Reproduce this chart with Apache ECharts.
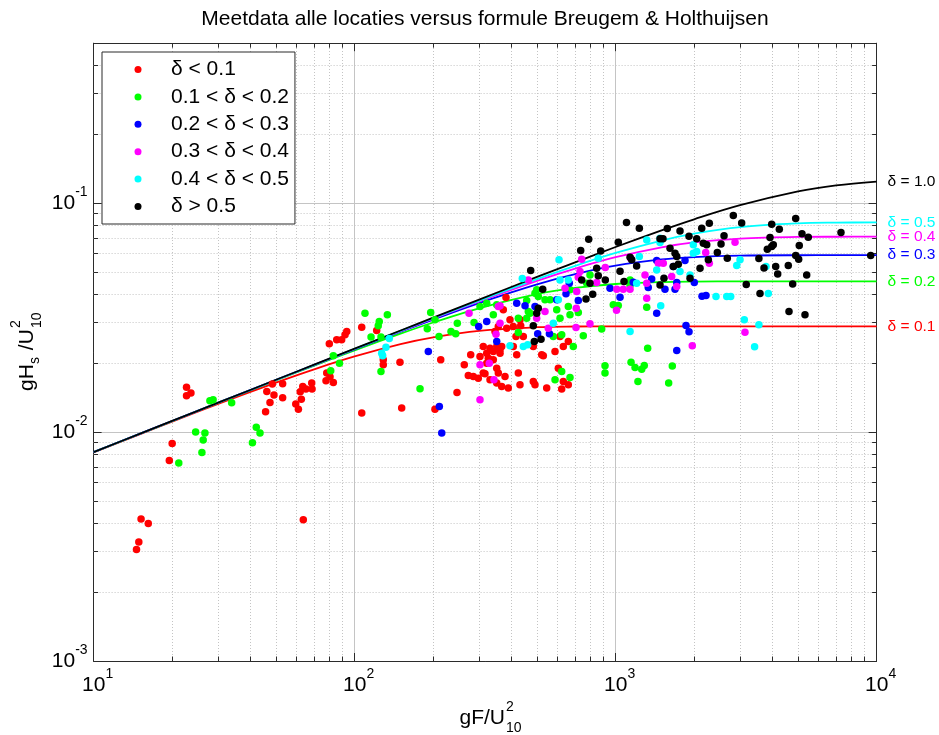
<!DOCTYPE html>
<html>
<head>
<meta charset="utf-8">
<script src="https://cdn.jsdelivr.net/npm/echarts@6/dist/echarts.min.js"></script>
<style>
  html, body { margin: 0; padding: 0; background: #fff; }
  #chart { width: 939px; height: 735px; }
</style>
</head>
<body>
<div id="chart"></div>
<script>
// Axis ranges (dimensionless fetch gF/U10^2 and wave height gHs/U10^2)
const fetchRange = [10, 10000];
const heightRange = [0.001, 0.5];

// Minor grid / tick positions (log decades 2..9)
const fetchMinor = [20, 30, 40, 50, 60, 70, 80, 90, 200, 300, 400, 500, 600, 700, 800, 900,
  2000, 3000, 4000, 5000, 6000, 7000, 8000, 9000];
const heightMinor = [0.002, 0.003, 0.004, 0.005, 0.006, 0.007, 0.008, 0.009,
  0.02, 0.03, 0.04, 0.05, 0.06, 0.07, 0.08, 0.09, 0.2, 0.3, 0.4];

// Legend / series names
const classNames = ['δ < 0.1', '0.1 < δ < 0.2', '0.2 < δ < 0.3', '0.3 < δ < 0.4', '0.4 < δ < 0.5', 'δ > 0.5'];
const classColors = ['#ff0000', '#00ff00', '#0000ff', '#ff00ff', '#00ffff', '#000000'];

// Measurements: [gF/U^2, gHs/U^2]
const depthBelow01 = [[15.2,0.00417],[16.2,0.00399],[14.9,0.00331],[14.6,0.00307],[19.5,0.00752],[20.0,0.00892],
  [22.7,0.01572],[23.6,0.0148],[22.7,0.0144],[63.6,0.00414],[46.1,0.01504],[48.4,0.01621],[49.1,0.01451],
  [47.4,0.01347],[45.6,0.01226],[53.0,0.01626],[53.0,0.01411],[59.5,0.01325],[60.9,0.01259],[62.5,0.01393],
  [63.3,0.01582],[61.9,0.015],[65.1,0.01541],[68.5,0.01637],[68.7,0.01541],[77.7,0.01675],[82.9,0.01646],
  [78.2,0.0181],[80.0,0.0243],[85.4,0.0253],[89.2,0.0253],[91.9,0.0266],[93.3,0.0275],[106.5,0.02874],
  [121.5,0.02778],[80.5,0.01744],[128.8,0.02069],[128.8,0.01967],[149.2,0.02021],[106.5,0.01211],[151.5,0.01273],
  [213.8,0.02069],[203.2,0.01259],[246.8,0.01489],[263.2,0.01967],[278.5,0.02176],[272.7,0.01767],[285,0.01749],
  [297.8,0.01721],[315.9,0.01797],[302.3,0.02139],[320.7,0.02213],[330.2,0.02327],[340,0.02249],[350.4,0.02365],
  [320.7,0.02001],[350.4,0.01903],[345.1,0.0275],[350.4,0.01637],[325.3,0.02104],[340,0.02069],[360.8,0.02288],
  [371.3,0.0342],[355.3,0.02892],[393.9,0.03093],[405.5,0.02892],[430.2,0.03093],[415.3,0.02616],[443,0.02616],
  [405.5,0.02365],[417.9,0.02176],[311.2,0.02365],[330.2,0.02069],[311.2,0.0181],[376.9,0.01749],[366.1,0.01582],
  [423.9,0.0181],[430.2,0.01609],[483.8,0.01663],[544.5,0.01557],[621.6,0.01541],[658.9,0.01609],[603.3,0.01903],
  [521.1,0.02176],[586,0.02249],[630.4,0.02365],[658.9,0.02486],[483.8,0.02365],[388,0.01557],[380.3,0.0387],
  [360.8,0.02213],[355.3,0.0181],[330.2,0.01692],[366.1,0.02365],[382.6,0.02844],[432.9,0.02912],[491.1,0.01609],
  [630.4,0.01663],[612.4,0.02616],[528.5,0.02154]];

const depth01to02 = [[27.9,0.0137],[28.7,0.01384],[33.8,0.01342],[24.6,0.01],[26.7,0.0099],[26.3,0.00923],
  [26.0,0.00815],[21.2,0.00732],[42.0,0.01051],[43.4,0.0099],[40.6,0.00898],[81.0,0.01852],[82.9,0.02154],
  [87.5,0.01997],[109.6,0.03309],[124.3,0.03041],[123.2,0.02912],[133.5,0.03253],[115.6,0.026],[126.2,0.026],
  [126.2,0.01839],[178.1,0.01545],[195.7,0.03329],[203.2,0.03093],[189.9,0.02826],[210.6,0.02616],[234.1,0.0275],
  [244,0.02688],[247.5,0.02992],[286.8,0.0301],[302.3,0.03535],[320.7,0.03659],[340,0.03253],[350.4,0.03597],
  [498.5,0.04182],[505.6,0.0391],[536.4,0.03783],[463,0.03362],[469.9,0.03309],[423.9,0.03146],[456.4,0.03146],
  [561,0.03783],[594.8,0.0342],[612.4,0.03146],[658.9,0.03535],[668.8,0.03253],[719.6,0.03329],[752,0.02634],
  [688.5,0.02365],[621.6,0.0266],[577.3,0.02616],[884.5,0.02818],[979.9,0.03597],[910.8,0.01948],[910.8,0.0181],
  [621.6,0.01839],[668.8,0.01731],[586,0.01692],[775,0.04473],[797.8,0.04862],[668.8,0.04182],[456.4,0.03756],
  [491.1,0.04046],[423.9,0.02722],[1136,0.04623],[1136,0.04365],[1024,0.03571],[1316,0.03514],[1327,0.02327],
  [1146,0.02021],[1187,0.01915],[1259,0.01884],[1288,0.01954],[1218,0.01663],[1649,0.01942],[1597,0.01637]];

const depth02to03 = [[191.6,0.02249],[211.2,0.01293],[215.7,0.0099],[320.7,0.03041],[298.8,0.02892],[350.4,0.02486],
  [417.9,0.03659],[449.8,0.0356],[491.1,0.03535],[594.8,0.03783],[645.6,0.04017],[719.6,0.03756],[664.7,0.04473],
  [951.7,0.04254],[1040,0.03886],[502.9,0.02688],[557.7,0.02688],[1437,0.05614],[1664,0.05285],[1845,0.05614],
  [1715,0.045],[1546,0.04212],[1689,0.04212],[1334,0.0428],[1375,0.04669],[2002,0.045],[2220,0.0395],
  [2143,0.03924],[1437,0.03309],[1861,0.02921],[1911,0.02742],[1715,0.02272],[1169,0.04518]];

const depth03to04 = [[274.4,0.03309],[302.3,0.01967],[302.3,0.01384],[328.1,0.02001],[342,0.01692],[348.2,0.02679],
  [355.3,0.03535],[741.5,0.05695],[913.1,0.05233],[730.5,0.05026],[719.6,0.04751],[709.6,0.04111],[640,0.04254],
  [536.4,0.03362],[498.5,0.03146],[552.2,0.02844],[707,0.03478],[797.8,0.02971],[705.2,0.02862],[1008,0.03409],
  [1010,0.04212],[1070,0.04212],[846.3,0.045],[360.8,0.0356],[360.8,0.02992],[463,0.04623],[2868,0.06756],
  [2214,0.06085],[2286,0.0547],[1458,0.0547],[1523,0.0547],[1296,0.04862],[1640,0.0478],[1715,0.04324],
  [1316,0.04473],[1136,0.04212],[1316,0.03847],[1967,0.02381],[3131,0.02733],[1142,0.05752]];

const depth04to05 = [[135.8,0.02564],[131.9,0.0235],[127,0.02213],[128.1,0.02154],[607,0.05655],[439,0.04683],
  [612.4,0.04623],[658.9,0.04623],[603.3,0.03783],[577.3,0.02992],[393.9,0.02381],[443,0.02365],[460.5,0.02405],
  [858.3,0.05752],[1136,0.0275],[1316,0.06914],[1480,0.07034],[1480,0.06728],[1985,0.06576],[1233,0.05845],
  [1985,0.06048],[2045,0.06146],[1928,0.04862],[1765,0.05026],[1437,0.05112],[1204,0.04473],[2425,0.0391],
  [2666,0.0391],[2761,0.0391],[1489,0.0356],[3112,0.03093],[2911,0.05339],[2997,0.05655],[3770,0.05285],
  [3847,0.04029],[3540,0.02942],[3408,0.02358]];

const depthAbove05 = [[1101,0.08245],[788.7,0.06964],[735,0.06209],[1024,0.06743],[876.7,0.06189],[472.8,0.05077],
  [525.7,0.04212],[846.3,0.05201],[858.3,0.04814],[913.1,0.04623],[741.5,0.04623],[797.8,0.04473],[817.2,0.04005],
  [770.1,0.0381],[1040,0.05047],[1077,0.04546],[505.6,0.03478],[498.5,0.03309],[483.8,0.02912],[488.1,0.02486],
  [517.9,0.02547],[1233,0.07776],[1578,0.07745],[1765,0.07568],[2138,0.07776],[2286,0.0818],[2825,0.08829],
  [3041,0.08204],[1480,0.06985],[1519,0.06985],[1911,0.07177],[2045,0.06985],[2168,0.06688],[2234,0.06576],
  [2603,0.07199],[2535,0.06641],[1616,0.0636],[1689,0.06048],[1715,0.05845],[2453,0.06085],[2679,0.05752],
  [2266,0.05655],[1136,0.0581],[1153,0.05655],[1204,0.05323],[1664,0.05285],[1739,0.05415],[2106,0.05201],
  [1532,0.04703],[1480,0.04396],[1928,0.04703],[3167,0.04418],[3964,0.08096],[4239,0.077],[4898,0.08564],
  [5178,0.07345],[5473,0.07106],[7303,0.07443],[3905,0.07078],[4020,0.06576],[3964,0.06463],[3813,0.06297],
  [5055,0.06528],[4898,0.05904],[5028,0.05695],[3540,0.05729],[3703,0.05217],[4106,0.05285],[4179,0.04911],
  [4588,0.05339],[5397,0.04862],[4769,0.0444],[3575,0.04029],[4617,0.03362],[5317,0.03253],[9493,0.05904]];

const measurements = [depthBelow01, depth01to02, depth02to03, depth03to04, depth04to05, depthAbove05];

// Breugem & Holthuijsen curves, tabulated per dimensionless depth
const curveFetch = [10, 15, 20, 30, 50, 70, 100, 150, 200, 300, 500, 700, 1000, 1500, 2000, 3000, 5000, 7000, 10000];
const curveDelta01 = [0.00816, 0.00978, 0.01111, 0.01327, 0.01646, 0.01881, 0.02140, 0.02423, 0.02594, 0.02769,
  0.02872, 0.02893, 0.02899, 0.02899, 0.02899, 0.02899, 0.02899, 0.02899, 0.02899];
const curveDelta02 = [0.00817, 0.00981, 0.01117, 0.01341, 0.01683, 0.01950, 0.02275, 0.02692, 0.03012, 0.03473,
  0.04002, 0.04262, 0.04436, 0.04525, 0.04546, 0.04553, 0.04553, 0.04553, 0.04553];
const curveDelta03 = [0.00818, 0.00982, 0.01118, 0.01343, 0.01689, 0.01962, 0.02299, 0.02744, 0.03102, 0.03660,
  0.04415, 0.04894, 0.05331, 0.05677, 0.05817, 0.05902, 0.05924, 0.05926, 0.05926];
const curveDelta04 = [0.00818, 0.00982, 0.01118, 0.01344, 0.01691, 0.01966, 0.02307, 0.02762, 0.03132, 0.03726,
  0.04582, 0.05182, 0.05806, 0.06415, 0.06736, 0.07006, 0.07123, 0.07137, 0.07140];
const curveDelta05 = [0.00818, 0.00982, 0.01118, 0.01344, 0.01692, 0.01967, 0.02310, 0.02769, 0.03146, 0.03756,
  0.04661, 0.05327, 0.06064, 0.06869, 0.07360, 0.07864, 0.08164, 0.08225, 0.08240];
const curveDelta10 = [0.00818, 0.00982, 0.01119, 0.01344, 0.01693, 0.01970, 0.02314, 0.02779, 0.03163, 0.03793,
  0.04762, 0.05519, 0.06435, 0.07608, 0.08507, 0.09799, 0.11259, 0.11966, 0.12430];

const curveLabels = ['δ = 0.1', 'δ = 0.2', 'δ = 0.3', 'δ = 0.4', 'δ = 0.5', 'δ = 1.0'];
const curveColors = ['#ff0000', '#00ff00', '#0000ff', '#ff00ff', '#00ffff', '#000000'];
const curveValues = [curveDelta01, curveDelta02, curveDelta03, curveDelta04, curveDelta05, curveDelta10];

const FONT = '"Liberation Sans", Arial, Helvetica, sans-serif';
const FRAME = '#2b2b2b';
const GRID_MAJOR = '#c4c4c4';
const GRID_MINOR = '#c4c4c4';

// "10^n" labels only at whole decades
function decadeLabel(v) {
  const lg = Math.log10(v);
  const e = Math.round(lg);
  if (Math.abs(lg - e) > 1e-6) return '';
  return '{b|10}{s|' + e + '}';
}

const chart = echarts.init(document.getElementById('chart'), null, { renderer: 'canvas' });

const logAxisBase = {
  type: 'log',
  logBase: 10,
  axisLine: { show: true, onZero: false, lineStyle: { color: FRAME, width: 1 } },
  axisTick: { show: true, inside: true, length: 8, lineStyle: { color: FRAME, width: 1 } },
  minorTick: { show: false },
  minorSplitLine: { show: false }
};

const supRich = {
  s: { fontSize: 14, fontFamily: FONT, color: '#000', verticalAlign: 'top', lineHeight: 14 }
};

function crisp(v) { return Math.round(v - 0.5) + 0.5; }

const series = [];

// dotted minor grid lines and minor ticks along x
series.push({
  type: 'custom',
  coordinateSystem: 'cartesian2d',
  silent: true,
  z: 1,
  data: fetchMinor.map(v => [v, heightRange[0]]),
  renderItem: function (params, api) {
    const x = api.value(0);
    const b = api.coord([x, heightRange[0]]);
    const t = api.coord([x, heightRange[1]]);
    const px = crisp(b[0]);
    return {
      type: 'group',
      children: [
        { type: 'line', shape: { x1: px, y1: b[1], x2: px, y2: t[1] },
          style: { stroke: GRID_MINOR, lineWidth: 1, lineDash: [1, 2] } },
        { type: 'line', shape: { x1: px, y1: b[1], x2: px, y2: b[1] - 4.5 },
          style: { stroke: FRAME, lineWidth: 1 } },
        { type: 'line', shape: { x1: px, y1: t[1], x2: px, y2: t[1] + 4.5 },
          style: { stroke: FRAME, lineWidth: 1 } }
      ]
    };
  }
});

// dotted minor grid lines and minor ticks along y
series.push({
  type: 'custom',
  coordinateSystem: 'cartesian2d',
  silent: true,
  z: 1,
  data: heightMinor.map(v => [fetchRange[0], v]),
  renderItem: function (params, api) {
    const y = api.value(1);
    const l = api.coord([fetchRange[0], y]);
    const r = api.coord([fetchRange[1], y]);
    const py = crisp(l[1]);
    return {
      type: 'group',
      children: [
        { type: 'line', shape: { x1: l[0], y1: py, x2: r[0], y2: py },
          style: { stroke: GRID_MINOR, lineWidth: 1, lineDash: [1, 2] } },
        { type: 'line', shape: { x1: l[0], y1: py, x2: l[0] + 4.5, y2: py },
          style: { stroke: FRAME, lineWidth: 1 } },
        { type: 'line', shape: { x1: r[0], y1: py, x2: r[0] - 4.5, y2: py },
          style: { stroke: FRAME, lineWidth: 1 } }
      ]
    };
  }
});

// formula curves
curveValues.forEach((vals, i) => {
  series.push({
    type: 'line',
    name: curveLabels[i],
    data: curveFetch.map((f, k) => [f, vals[k]]),
    showSymbol: false,
    smooth: 0.35,
    z: 2,
    silent: true,
    lineStyle: { color: curveColors[i], width: 1.8 },
    itemStyle: { color: curveColors[i] },
    endLabel: {
      show: true,
      formatter: curveLabels[i],
      color: curveColors[i],
      fontSize: 15.5,
      fontFamily: FONT,
      distance: 11
    }
  });
});

// measurement points
measurements.forEach((pts, i) => {
  series.push({
    type: 'scatter',
    name: classNames[i],
    data: pts,
    symbol: 'circle',
    symbolSize: 7.5,
    z: 3,
    itemStyle: { color: classColors[i], opacity: 1 }
  });
});

const option = {
  animation: false,
  backgroundColor: '#ffffff',
  textStyle: { fontFamily: FONT },
  grid: { left: 93.6, right: 62.4, top: 43.2, bottom: 74, containLabel: false },
  legend: {
    data: classNames,
    orient: 'vertical',
    left: 102,
    top: 52,
    padding: [7, 6, 7, 32.5],
    itemGap: 6.4,
    itemWidth: 56,
    itemHeight: 7,
    icon: 'circle',
    selectedMode: false,
    backgroundColor: '#ffffff',
    borderColor: FRAME,
    borderWidth: 1,
    borderRadius: 0,
    textStyle: { fontSize: 21, fontFamily: FONT, color: '#000', lineHeight: 21 }
  },
  xAxis: [
    Object.assign({}, logAxisBase, {
      min: fetchRange[0], max: fetchRange[1], position: 'bottom',
      splitLine: { show: true, lineStyle: { color: GRID_MAJOR, width: 1, type: 'solid' } },
      axisLabel: {
        show: true, margin: 6, showMinLabel: true, showMaxLabel: true,
        formatter: decadeLabel,
        rich: Object.assign({
          b: { fontSize: 21, fontFamily: FONT, color: '#000', lineHeight: 36, padding: [0, 0, 0, 8] }
        }, supRich)
      }
    }),
    Object.assign({}, logAxisBase, {
      min: fetchRange[0], max: fetchRange[1], position: 'top',
      splitLine: { show: false }, axisLabel: { show: false }
    })
  ],
  yAxis: [
    Object.assign({}, logAxisBase, {
      min: heightRange[0], max: heightRange[1], position: 'left',
      splitLine: { show: true, lineStyle: { color: GRID_MAJOR, width: 1, type: 'solid' } },
      axisLabel: {
        show: true, margin: 6, showMinLabel: true, showMaxLabel: true,
        formatter: decadeLabel,
        rich: Object.assign({
          b: { fontSize: 21, fontFamily: FONT, color: '#000', lineHeight: 36 }
        }, supRich)
      }
    }),
    Object.assign({}, logAxisBase, {
      min: heightRange[0], max: heightRange[1], position: 'right',
      splitLine: { show: false }, axisLabel: { show: false }
    })
  ],
  graphic: [
    {
      type: 'text', x: 485, y: 19, silent: true,
      style: { text: 'Meetdata alle locaties versus formule Breugem & Holthuijsen',
        font: '21px ' + FONT, fill: '#000', align: 'center', verticalAlign: 'middle' }
    },
    // x axis name: gF/U with stacked 2 and 10
    {
      type: 'group', x: 505, y: 718, silent: true,
      children: [
        { type: 'text', x: 0, y: 0, style: { text: 'gF/U', font: '21px ' + FONT, fill: '#000', align: 'right', verticalAlign: 'middle' } },
        { type: 'text', x: 1, y: -11, style: { text: '2', font: '14px ' + FONT, fill: '#000', align: 'left', verticalAlign: 'middle' } },
        { type: 'text', x: 1, y: 10, style: { text: '10', font: '14px ' + FONT, fill: '#000', align: 'left', verticalAlign: 'middle' } }
      ]
    },
    // y axis name: gHs/U with stacked 2 and 10, rotated
    {
      type: 'group', x: 27, y: 355, rotation: Math.PI / 2, silent: true,
      children: [
        { type: 'text', x: -36, y: 0, style: { text: 'gH', font: '21px ' + FONT, fill: '#000', align: 'left', verticalAlign: 'middle' } },
        { type: 'text', x: -9, y: 8, style: { text: 's', font: '14px ' + FONT, fill: '#000', align: 'left', verticalAlign: 'middle' } },
        { type: 'text', x: -1, y: 0, style: { text: ' /U', font: '21px ' + FONT, fill: '#000', align: 'left', verticalAlign: 'middle' } },
        { type: 'text', x: 27, y: -11, style: { text: '2', font: '14px ' + FONT, fill: '#000', align: 'left', verticalAlign: 'middle' } },
        { type: 'text', x: 27, y: 10, style: { text: '10', font: '14px ' + FONT, fill: '#000', align: 'left', verticalAlign: 'middle' } }
      ]
    }
  ],
  series: series
};

chart.setOption(option);
</script>
</body>
</html>
